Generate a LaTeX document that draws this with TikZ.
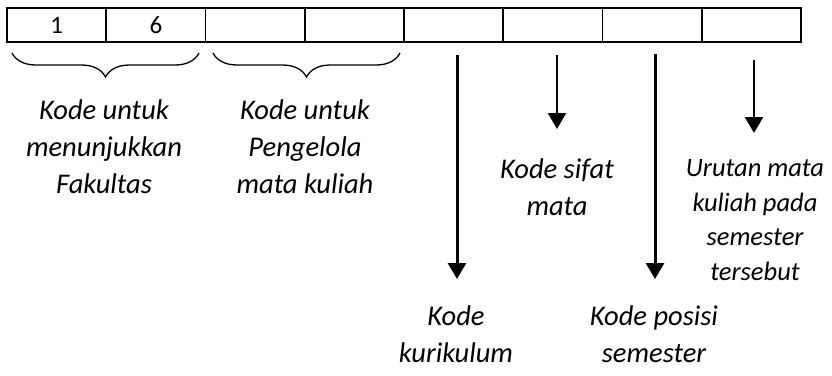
\documentclass[tikz,border=0pt]{standalone}
\usepackage{fontspec}
\setmainfont{Carlito}
\usetikzlibrary{arrows.meta,decorations.pathreplacing}
\begin{document}
\begin{tikzpicture}[x=1pt,y=1pt,
  cell/.style={draw,line width=1.6pt,minimum width=99.25pt,minimum height=34pt,inner sep=0pt,font=\fontsize{25}{29}\selectfont},
  bracestyle/.style={decorate,decoration={brace,amplitude=24pt,mirror},line width=1.3pt},
  arr/.style={line width=#1,-{Triangle[width=18pt,length=16pt]}},
  lbl/.style={align=center,inner sep=0pt,anchor=base,font=\fontsize{28.5}{37}\selectfont\itshape},
  lblsmall/.style={align=center,inner sep=0pt,anchor=base,font=\fontsize{26.5}{34.5}\selectfont\itshape}]
\useasboundingbox (0,0) rectangle (832,-375);
\foreach \i/\t in {0/1,1/6,2/,3/,4/,5/,6/,7/} {
  \node[cell] (c\i) at (7+49.625+99.25*\i,-25) {\t};
}
% braces
\coordinate (b1s) at (12,-53);
\coordinate (b1e) at (199,-53);
\coordinate (b2s) at (213,-53);
\coordinate (b2e) at (400,-53);
\draw[bracestyle] (b1s) -- (b1e);
\draw[bracestyle] (b2s) -- (b2e);
% arrows
\coordinate (a1s) at (457,-55); \coordinate (a1e) at (457,-279);
\coordinate (a2s) at (557,-55); \coordinate (a2e) at (557,-129);
\coordinate (a3s) at (655,-54); \coordinate (a3e) at (655,-279);
\coordinate (a4s) at (754,-60); \coordinate (a4e) at (754,-133);
\draw[arr=3pt] (a1s) -- (a1e);
\draw[arr=2.6pt] (a2s) -- (a2e);
\draw[arr=3pt] (a3s) -- (a3e);
\draw[arr=2.6pt] (a4s) -- (a4e);
% labels (base anchor = baseline of last line)
\node[lbl] (t1) at (104,-193) {Kode untuk\\menunjukkan\\Fakultas};
\node[lbl] (t2) at (305,-193) {Kode untuk\\Pengelola\\mata kuliah};
\node[lbl] (t3) at (557,-215) {Kode sifat\\mata};
\node[lblsmall] (t4) at (755,-280) {Urutan mata\\kuliah pada\\semester\\tersebut};
\node[lbl] (t5) at (456,-362) {Kode\\kurikulum};
\node[lbl] (t6) at (654,-362) {Kode posisi\\semester};
\end{tikzpicture}
\end{document}
